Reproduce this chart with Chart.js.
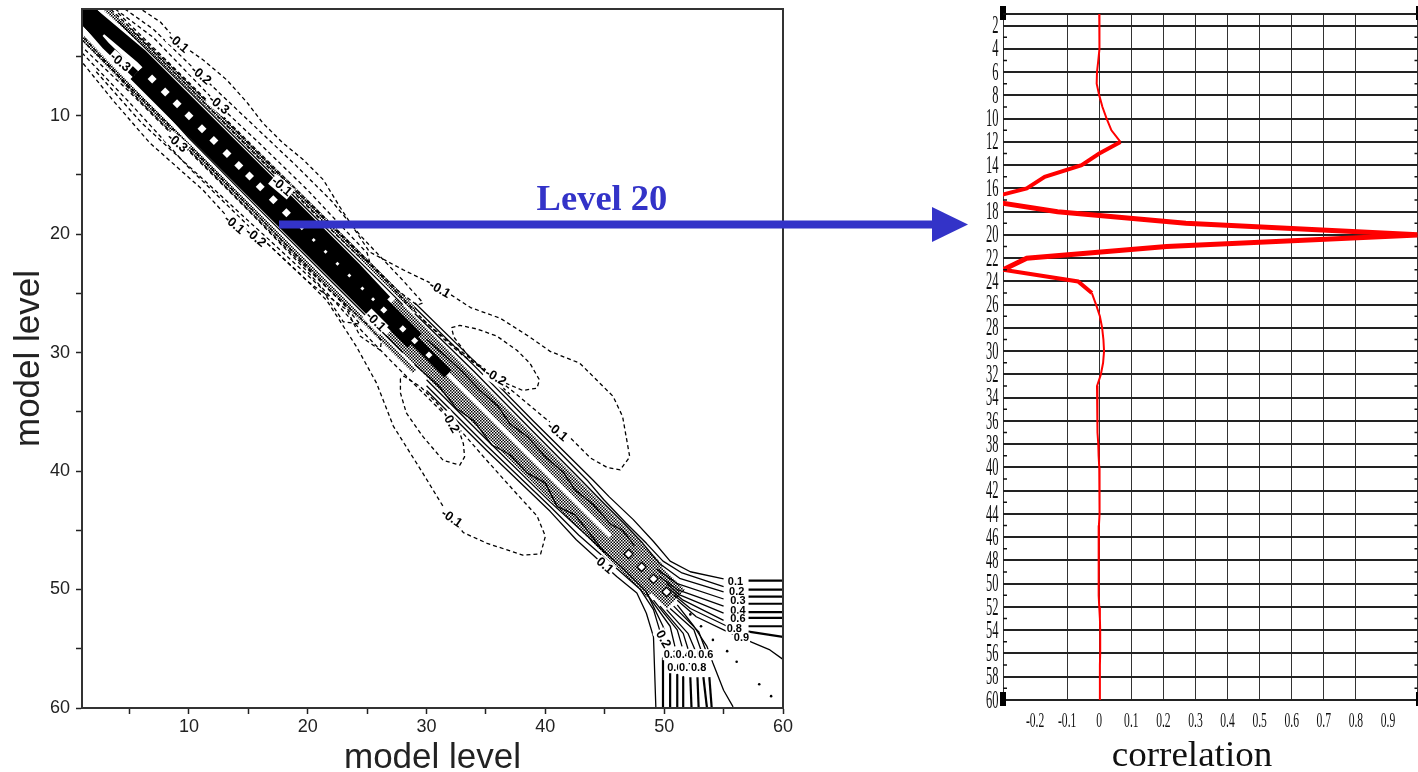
<!DOCTYPE html>
<html>
<head>
<meta charset="utf-8">
<title>Model level correlation</title>
<script src="https://cdn.jsdelivr.net/npm/chart.js@4"></script>
<style>
  html, body { margin: 0; padding: 0; background: #fff; overflow: hidden; }
  #page { position: relative; width: 1418px; height: 772px; }
  .box { position: absolute; top: 0; height: 772px; }
  #leftBox { left: 0; width: 900px; }
  #rightBox { left: 960px; width: 458px; }
  .box canvas { filter: blur(0.5px); }
  #arrow { position: absolute; left: 0; top: 0; }
  #levelLabel { position: absolute; left: 502px; top: 176px; width: 200px; text-align: center;
    font: bold 36.5px "Liberation Serif", serif; color: #3333c8; }
</style>
</head>
<body>
<div id="page">
  <div id="leftBox" class="box"><canvas id="contour"></canvas></div>
  <div id="rightBox" class="box"><canvas id="profile"></canvas></div>
  <svg id="arrow" width="1418" height="772">
    <rect x="279" y="220.5" width="654" height="8" fill="#3333c8"/>
    <polygon points="932,207 968,224.5 932,242" fill="#3333c8"/>
  </svg>
  <div id="levelLabel">Level 20</div>
</div>

<script>
// ---- right panel: correlation with level 20, one value per model level 1..60
const levels = [1,2,3,4,5,6,7,8,9,10,11,12,13,14,15,16,17,18,19,20,21,22,23,24,25,26,27,28,29,30,
  31,32,33,34,35,36,37,38,39,40,41,42,43,44,45,46,47,48,49,50,51,52,53,54,55,56,57,58,59,60];
const correlation = [0,0,0,0.002,-0.003,-0.007,-0.008,0,0.01,0.023,0.038,0.066,0,-0.055,-0.17,-0.226,-0.367,-0.13,0.27,1,
  0.21,-0.226,-0.3,-0.066,-0.023,-0.01,0.002,0.009,0.013,0.015,0.012,0.005,-0.007,-0.007,-0.006,-0.005,-0.004,-0.003,-0.002,0,
  0.002,0.002,0,0,-0.001,-0.001,-0.002,-0.002,-0.003,-0.002,-0.001,0,0.002,0.003,0.003,0.003,0.002,0.002,0.002,0.002];
const corrTicks = [-0.2,-0.1,0,0.1,0.2,0.3,0.4,0.5,0.6,0.7,0.8,0.9];
const levelTicks = [2,4,6,8,10,12,14,16,18,20,22,24,26,28,30,32,34,36,38,40,42,44,46,48,50,52,54,56,58,60];

// ---- left panel: contours as [model level, model level]
const negUpper1 = [[6.1,1.1],[7.6,2.1],[9.2,3.9],[11.2,5.3],[13.2,7],[14.9,8.9],[16.2,10.6],[17.9,12.3],[19.6,13.7],[21.3,15.4],[22.7,17.7],[23.8,19.4],[25.2,21.5],[28,23],[31.1,24.5],[33.7,26.2],[36.2,27.1],[38.7,28.7],[40.4,29.9],[42.9,30.9],[45.7,33.7],[46.5,35.4],[47.1,38.8],[46.3,39.9],[45.2,39.7],[43.8,38.9],[42.1,37.2],[39.8,35.4],[37.3,33.3],[35.3,31.7],[32,29.2],[30,27.5],[28.2,25.7],[26.1,23.4],[22.5,19.8],[18,15.4],[12,9.3],[7,4.4],[3.4,1]];
const negUpper2 = [[4.6,1],[7,2.7],[11,6.6],[15,10.4],[19,14.2],[22,17.2],[24.5,20.2],[28,23.9],[29.7,25.8],[29.2,26],[27.5,24.7],[24,21.2],[20,17.2],[16,13.2],[10,7.2],[4,1.3]];
const negUpper3 = [[3.8,1],[7,3.4],[12.5,9.1],[16,12.4],[20,16.3],[23,19.5],[25,21.6],[25.2,22.3],[24.2,21.8],[21,18.7],[16,13.7],[10,7.6],[5,2.6]];
const negUpperLoop = [[32.1,27.9],[32.8,27.7],[34.2,28],[35.9,28.6],[37.6,29.8],[38.7,30.9],[39.5,32.3],[39.3,33],[38.1,33.2],[36.7,32.6],[35.6,32],[33.9,30.8],[32.3,28.7],[32.1,27.9]];
const negLower1 = [[1.1,5.6],[3.6,8.7],[6.7,12.3],[11.2,16.3],[13.2,18.5],[16.3,20.5],[19.6,23.6],[21.6,25.6],[24.1,29.5],[25.8,32.6],[27.2,36.2],[29.7,40.2],[31.4,43],[33.1,45.2],[35.1,46.1],[38.1,47.1],[39.6,47],[40,45.5],[39.3,43.8],[37.3,41.6],[34.8,38.8],[32.8,36.5],[30.9,34.6],[27,30.7],[24,27.6],[20,23.2],[15,18],[10,13],[5,8],[1,4.2]];
const negLower2 = [[1,4.7],[5,8.9],[10,14.4],[15,19.3],[20,24],[23.3,26.4],[24.4,28.6],[26.1,29.8],[26.2,29],[25,27.6],[22,24.9],[15,17.6],[8,10.5],[1,3.6]];
const negLower3 = [[2.2,6.3],[6,10.6],[11,15.2],[16,19.8],[21,24.4],[23,27.4],[24.4,27.6],[23,25.9],[18,21],[12,14.9],[6,8.9],[1,3.2]];
const negLowerLoop = [[27.8,32.2],[27.8,33.4],[28.3,35.1],[29.7,37.1],[31.4,39.1],[32.8,39.5],[33.2,38.8],[33.1,37.7],[32.7,36.5],[30.9,34.3],[29.5,32.9],[28.1,32],[27.8,32.2]];
const negInner = [[29.7,27.2],[31.5,28.9],[33,30.2],[34.5,31.2],[37,33.5]];

const fineUpper = [[3,1],[8,5.6],[14,11.5],[20,17.4],[25,22.4],[29,26.4]];
const fineLower = [[1,3.4],[6,8.6],[12,14.6],[18,20.6],[24,26.6],[29,31.6]];
const thinUpper = [[4,2],[10,7.95],[16,13.95],[22,19.95],[28,25.95]];
const thinLower = [[1,2.3],[5,6.3],[10,11.9],[16,18],[22,24],[28,30]];
const blackCorner = [[1,1],[3,3]];
const blackUpper = [[1.5,1.2],[6,5],[12,11],[18,17],[24,23],[26.5,25.7]];
const blackLower = [[5.5,6.5],[12,13],[18,19],[24,25],[26,27]];
const blackTopLower = [[1,1.8],[3,4.1],[5.5,6.5]];
const blackCore = [[6,6],[12,12],[18,18],[24,24],[29,29]];
const blackTail = [[28.5,28.5],[30.2,30.2],[31.8,31.8]];
const greyUpper = [[27,25.85],[32,30.85],[38,36.85],[44,42.85],[47,45.85],[49.5,48.4]];
const greyLower = [[27,28.15],[32,33.15],[38,39.15],[44,45.15],[47,48.15],[49,50.2]];
const greyCore = [[45.5,45.5],[51,50.8]];
const wiggleUpper = [[30,28.9],[31.5,30.2],[33,31.6],[34.5,33.2],[36,34.5],[37,36],[38.5,37.1],[40,38.8],[41.5,40.1],[42.5,41.6],[44,42.8],[45.5,44.5],[46.5,45],[47.5,46.3]];
const wiggleLower = [[29,31],[31,32.8],[32.5,34.7],[34,35.8],[35.5,37.8],[37,38.6],[38.5,40.2],[40,41],[41,43],[42.5,43.7],[44,45.6],[45,46.9]];

const solidRight1 = [[29,25.8],[34,30.7],[39,35.8],[44,40.75],[45.4,42.2],[47.4,44.1],[49.1,45.95],[50.5,47.6],[52.2,48.5],[55,49.1]];
const solidRight2 = [[29,26.2],[34,31.1],[39,36.2],[43.5,40.75],[44.9,42.4],[46.8,44.4],[48.5,46.1],[49.9,47.6],[51.5,48.6],[55,49.75]];
const solidRight3 = [[29,26.7],[34,31.6],[39,36.7],[43,40.75],[44.6,42.4],[46.6,44.4],[48.2,46.1],[49.6,47.8],[51.3,49.05],[55,50.2]];
const solidRight4 = [[49.4,48.3],[51.1,49.5],[55,50.8]];
const solidRight5 = [[49.6,48.9],[51.1,50],[55,51.4]];
const solidRight6 = [[50.2,49.5],[51.3,50.45],[55,52]];
const solidRight7 = [[50.5,50],[51.6,50.9],[55,52.6]];
const solidRight8 = [[50.8,50.45],[52.2,51.6],[55.3,53.1]];
const edgeRight1 = [[57.1,49.25],[60,49.25]];
const edgeRight2 = [[57.1,50],[60,50]];
const edgeRight3 = [[57.1,50.6],[60,50.6]];
const edgeRight4 = [[57.1,51.2],[60,51.2]];
const edgeRight5 = [[57.1,51.9],[60,51.9]];
const edgeRight6 = [[57.1,52.4],[60,52.4]];
const edgeRight7 = [[57.1,53.1],[60,53.1]];
const edgeRight8 = [[57.1,53.55],[60,54]];
const solidRight9 = [[51.1,50.9],[52.7,52.3],[55.3,53.55],[57.5,54.5],[58.9,55.1],[60,55.9]];

const solidBottom1 = [[30,33.2],[35,38.2],[40.4,43.4],[42.6,45.8],[46,48.9],[47.7,50.3],[48.5,52],[49.1,54],[49.3,60]];
const solidBottom2 = [[30,32.8],[35,37.8],[40.4,43],[42.8,45.4],[46.2,48.4],[48,50],[49.1,51.7],[49.7,53.7]];
const solidBottom3 = [[30,32.3],[35,37.3],[40.4,42.6],[43,45],[46.5,48.2],[48.5,50.2],[49.9,53.1],[50.35,54.5]];
const solidBottom4 = [[48.5,50.3],[50.5,53.1],[50.9,54.8]];
const solidBottom5 = [[49.1,50.9],[51.1,53.4],[51.5,54.8]];
const solidBottom6 = [[49.65,51.4],[51.6,53.7],[52,55]];
const solidBottom7 = [[50.2,51.7],[52,53.7],[52.6,55.1]];
const solidBottom8 = [[50.5,51.6],[52.5,53.4],[53.2,55.4]];
const solidBottom9 = [[50.8,51.4],[52.9,53.55],[53.6,55.4]];
const solidBottom10 = [[51.1,51.3],[52.5,53.1],[53.6,54.8],[54.1,56.2],[55,58.5],[55.8,59.9]];
const edgeBottom2 = [[49.9,55.8],[49.9,60]];
const edgeBottom3 = [[50.5,57],[50.5,60]];
const edgeBottom4 = [[51.1,57.2],[51.1,60]];
const edgeBottom5 = [[51.6,57.4],[51.6,60]];
const edgeBottom6 = [[52.2,57.4],[52.3,60]];
const edgeBottom7 = [[52.8,57.4],[52.9,60]];
const edgeBottom8 = [[53.3,57.4],[53.6,60]];
const edgeBottom9 = [[53.8,57.4],[54,60]];

const bigDiamonds = [6.9,8,9,10,11.1,12.1,13.2,14.2,15.1,16,17.1,18.2];
const smallDiamonds = [19.5,20.5,21.5,22.5,23.5,24.6,25.5];
const ringDiamonds = [26.4,28,29,30.2,47,48.1,49.1,50.2];
const strayDots = [[52.2,52.1],[53.1,53.1],[54.1,54.25],[55.3,55.2],[56.1,56.1],[58,58],[59,59]];

// contour labels: x, y, text, angle in degrees
const contourLabels = [
  [9.1,3.9,"-0.1",40],[11,6.6,"-0.2",40],[12.5,9.1,"-0.3",40],[4.2,5.5,"-0.3",40],[9,12.3,"-0.3",40],
  [13.8,19.2,"-0.1",40],[15.6,20.3,"-0.2",40],[17.8,16,"-0.1",40],[31.1,24.7,"-0.1",30],[25.7,27.4,"-0.1",45],
  [35.8,32.1,"-0.2",30],[41,36.7,"-0.1",40],[32,35.9,"-0.2",60],[32.1,44,"-0.1",35],[45,48,"0.1",40],
  [49.9,54.2,"0.2",60],
  [56,49.4,"0.1",0],[56.1,50.2,"0.2",0],[56.2,51,"0.3",0],[56.2,51.8,"0.4",0],[56.2,52.5,"0.6",0],[55.9,53.3,"0.8",0],[56.5,54.1,"0.9",0],
  [50.6,55.5,"0.3",0],[51.6,55.5,"0.4",0],[52.6,55.5,"0.5",0],[53.5,55.5,"0.6",0],
  [50.9,56.6,"0.6",0],[51.9,56.6,"0.7",0],[52.9,56.6,"0.8",0]
];

const dashedLines = [negUpper1,negUpper2,negUpper3,negUpperLoop,negLower1,negLower2,negLower3,negLowerLoop,negInner];
const solidLines = [thinUpper,thinLower,solidRight1,solidRight2,solidRight3,solidRight4,solidRight5,solidRight6,solidRight7,solidRight8,solidRight9,
  solidBottom1,solidBottom2,solidBottom3,solidBottom4,solidBottom5,solidBottom6,solidBottom7,solidBottom8,solidBottom9,solidBottom10,wiggleUpper,wiggleLower];
const edgeLines = [edgeRight1,edgeRight2,edgeRight3,edgeRight4,edgeRight5,edgeRight6,edgeRight7,edgeRight8,
  edgeBottom2,edgeBottom3,edgeBottom4,edgeBottom5,edgeBottom6,edgeBottom7,edgeBottom8,edgeBottom9];

const toXY = pts => pts.map(p => ({x: p[0], y: p[1]}));
const onDiagonal = vals => vals.map(v => ({x: v, y: v}));

// checker used for the finely hatched bands
const tile = document.createElement("canvas");
tile.width = tile.height = 3;
const tc = tile.getContext("2d");
tc.fillStyle = "#fff"; tc.fillRect(0, 0, 3, 3);
tc.fillStyle = "#000"; tc.fillRect(0, 0, 1.5, 1.5); tc.fillRect(1.5, 1.5, 1.5, 1.5);
const hatch = tc.createPattern(tile, "repeat");

function line(pts, width, color, order, dash) {
  return { data: toXY(pts), showLine: true, borderColor: color, borderWidth: width,
    borderDash: dash || [], pointRadius: 0, order: order, borderJoinStyle: "round", borderCapStyle: "butt", tension: 0 };
}
function points(data, radius, fill, edge, style, order) {
  return { data: data, showLine: false, pointStyle: style, pointRadius: radius,
    backgroundColor: fill, borderColor: edge, borderWidth: edge === fill ? 0 : 1.3, order: order };
}

const contourSets = [
  points(onDiagonal(bigDiamonds), 4.5, "#fff", "#fff", "rectRot", 0),
  points(onDiagonal(smallDiamonds), 2, "#fff", "#fff", "rectRot", 0),
  points(onDiagonal(ringDiamonds), 4.5, "#fff", "#000", "rectRot", 0),
  points(toXY(strayDots), 1.3, "#000", "#000", "circle", 1),
  ...solidLines.map(p => line(p, 1.3, "#000", 2)),
  ...edgeLines.map(p => line(p, 2.2, "#000", 2)),
  ...dashedLines.map(p => line(p, 1.3, "#000", 2, [4, 3])),
  line(blackCorner, 20, "#000", 3),
  line(blackUpper, 14, "#000", 3),
  line(blackLower, 14, "#000", 3),
  line(blackTopLower, 8, "#000", 3),
  line(blackCore, 20, "#000", 3),
  line(blackTail, 10, "#000", 3),
  line(greyUpper, 15, hatch, 4),
  line(greyLower, 15, hatch, 4),
  line(greyCore, 26, hatch, 4),
  line(fineUpper, 5, hatch, 5),
  line(fineLower, 5, hatch, 5)
];

const frameAndLabels = {
  id: "frameAndLabels",
  afterDatasetsDraw(chart) {
    const {ctx, chartArea: a, scales} = chart;
    ctx.save();
    ctx.textAlign = "center";
    ctx.textBaseline = "middle";
    contourLabels.forEach(l => {
      const size = l[3] === 0 ? 11 : 13;
      ctx.font = "bold " + size + "px 'Liberation Sans', sans-serif";
      const w = ctx.measureText(l[2]).width;
      ctx.save();
      ctx.translate(scales.x.getPixelForValue(l[0]), scales.y.getPixelForValue(l[1]));
      ctx.rotate(l[3] * Math.PI / 180);
      ctx.fillStyle = "#fff";
      ctx.fillRect(-w / 2 - 1, -size / 2, w + 2, size);
      ctx.fillStyle = "#000";
      ctx.fillText(l[2], 0, 0);
      ctx.restore();
    });
    ctx.lineWidth = 2;
    ctx.strokeStyle = "#333";
    ctx.strokeRect(a.left, a.top, a.right - a.left, a.bottom - a.top);
    ctx.restore();
  }
};

const labelEvery10 = v => (v % 10 === 0 ? String(v) : "");
const tickFont = {family: "'Liberation Sans', sans-serif", size: 18};
const titleFont = {family: "'Liberation Sans', sans-serif", size: 35, lineHeight: 0.9};

new Chart(document.getElementById("contour"), {
  type: "scatter",
  data: { datasets: contourSets },
  plugins: [frameAndLabels],
  options: {
    responsive: true, maintainAspectRatio: false, animation: false,
    layout: { padding: { top: 9, right: 117, left: 0, bottom: 0 } },
    plugins: { legend: {display: false}, tooltip: {enabled: false} },
    scales: {
      x: { type: "linear", min: 1, max: 60,
        afterFit: s => { s.height = 64; s.paddingLeft = 0; s.paddingRight = 0; },
        border: {color: "#333", width: 2},
        grid: {drawOnChartArea: false, tickLength: 6, color: "#222", tickWidth: 1.5},
        ticks: {stepSize: 5, includeBounds: false, autoSkip: false, maxRotation: 0, font: tickFont, color: "#222", padding: 2, callback: labelEvery10},
        title: {display: true, text: "model level", color: "#222", font: titleFont, padding: {top: 0, bottom: -2}} },
      y: { type: "linear", min: 1, max: 60, reverse: true,
        afterFit: s => { s.width = 82; s.paddingTop = 0; s.paddingBottom = 0; },
        border: {color: "#333", width: 2},
        grid: {drawOnChartArea: false, tickLength: 6, color: "#222", tickWidth: 1.5},
        ticks: {stepSize: 5, includeBounds: false, autoSkip: false, font: tickFont, color: "#222", padding: 6, callback: labelEvery10},
        title: {display: true, text: "model level", color: "#222", font: titleFont, padding: {top: 14, bottom: 0}} }
    }
  }
});

// text squeezed or stretched sideways, the way the source picture was resized
function sideText(ctx, text, x, y, font, sx, align) {
  ctx.save();
  ctx.translate(x, y);
  ctx.scale(sx, 1);
  ctx.font = font;
  ctx.textAlign = align;
  ctx.textBaseline = "middle";
  ctx.fillStyle = "#111";
  ctx.fillText(text, 0, 0);
  ctx.restore();
}

const profileDecor = {
  id: "profileDecor",
  afterDraw(chart) {
    const {ctx, chartArea: a, scales} = chart;
    ctx.save();
    ctx.fillStyle = "#000";
    [a.top - 8, a.bottom - 8].forEach(y => {
      ctx.fillRect(a.left - 3, y, 6, 14);
      ctx.fillRect(a.right - 1.5, y, 3, 14);
    });
    ctx.strokeStyle = "#111";
    ctx.lineWidth = 1.5;
    levels.filter(v => v % 2 === 1).forEach(v => {
      const y = scales.y.getPixelForValue(v);
      ctx.beginPath();
      ctx.moveTo(a.left, y); ctx.lineTo(a.left + 4, y);
      ctx.moveTo(a.right - 3, y); ctx.lineTo(a.right, y);
      ctx.stroke();
    });
    ctx.restore();
    levelTicks.forEach(v => sideText(ctx, String(v), a.left - 4.5, scales.y.getPixelForValue(v) + 1, "25px 'Liberation Serif', serif", 0.5, "right"));
    corrTicks.forEach(v => sideText(ctx, String(v), scales.x.getPixelForValue(v), a.bottom + 22, "20px 'Liberation Serif', serif", 0.58, "center"));
    sideText(ctx, "correlation", 232, 757, "36px 'Liberation Serif', serif", 1.03, "center");
  }
};

new Chart(document.getElementById("profile"), {
  type: "scatter",
  data: { datasets: [{
    data: levels.map((lev, i) => ({x: correlation[i], y: lev})),
    showLine: true, pointRadius: 0, borderColor: "#ff0000", borderWidth: 2, tension: 0,
    segment: { borderWidth: c => (c.p0DataIndex >= 16 && c.p0DataIndex <= 21 ? 5 : (c.p0DataIndex >= 11 && c.p0DataIndex <= 23 ? 4 : 2)) }
  }] },
  plugins: [profileDecor],
  options: {
    responsive: true, maintainAspectRatio: false, animation: false,
    layout: { padding: { left: 43, right: 0.5, top: 14, bottom: 72 } },
    plugins: { legend: {display: false}, tooltip: {enabled: false} },
    scales: {
      x: { type: "linear", min: -0.3, max: 0.992,
        border: {display: false},
        grid: {color: "#333", lineWidth: 1, drawTicks: false},
        ticks: {display: false, stepSize: 0.1} },
      y: { type: "linear", min: 1, max: 60, reverse: true,
        border: {display: false},
        grid: {drawTicks: false, color: "#222", lineWidth: c => (c.tick && c.tick.value % 2 === 0 ? 2 : (c.tick && c.tick.value === 1 ? 2 : 0))},
        ticks: {display: false, stepSize: 1} }
    }
  }
});
</script>
</body>
</html>
